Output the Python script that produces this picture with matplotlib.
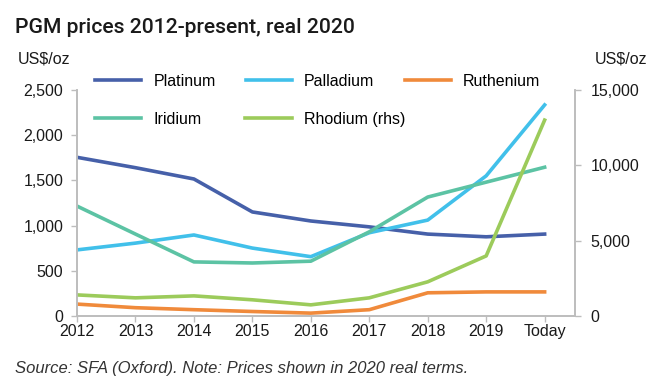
import matplotlib
matplotlib.use("Agg")
import matplotlib.pyplot as plt

plt.rcParams['font.family'] = ['Liberation Sans', 'DejaVu Sans']

years = ["2012", "2013", "2014", "2015", "2016", "2017", "2018", "2019", "Today"]

# US$/oz, real 2020 (left axis)
platinum = [1755, 1640, 1515, 1150, 1050, 985, 905, 875, 905]
palladium = [730, 805, 895, 750, 655, 920, 1060, 1550, 2335]
ruthenium = [130, 90, 68, 48, 30, 68, 255, 265, 265]
iridium = [1215, 905, 597, 585, 605, 930, 1315, 1480, 1645]
# right axis
rhodium = [1390, 1195, 1325, 1065, 730, 1195, 2260, 3980, 13000]

c_plat = "#4660A9"
c_pall = "#41C0EA"
c_ruth = "#F08A3B"
c_irid = "#5CC3A4"
c_rhod = "#9CCB5B"
spine_col = "#BDBDBD"

fig = plt.figure(figsize=(6.64, 3.88), dpi=100)
ax = fig.add_axes([0.116, 0.186, 0.75, 0.582])
ax2 = ax.twinx()

x = list(range(len(years)))
lw = 2.6
l1, = ax.plot(x, platinum, color=c_plat, lw=lw, label="Platinum")
l2, = ax.plot(x, palladium, color=c_pall, lw=lw, label="Palladium")
l3, = ax.plot(x, ruthenium, color=c_ruth, lw=lw, label="Ruthenium")
l4, = ax.plot(x, iridium, color=c_irid, lw=lw, label="Iridium")
l5, = ax2.plot(x, rhodium, color=c_rhod, lw=lw, label="Rhodium (rhs)")

ax.set_xlim(0, 8.52)
ax.set_ylim(0, 2500)
ax2.set_ylim(0, 15000)
ax.set_xticks(x)
ax.set_xticklabels(years)
ax.set_yticks([0, 500, 1000, 1500, 2000, 2500])
ax.set_yticklabels(["0", "500", "1,000", "1,500", "2,000", "2,500"])
ax2.set_yticks([0, 5000, 10000, 15000])
ax2.set_yticklabels(["0", "5,000", "10,000", "15,000"])

for a in (ax, ax2):
    for s in a.spines.values():
        s.set_color(spine_col)
        s.set_linewidth(1.2)
    a.spines["top"].set_visible(False)
    a.tick_params(colors=spine_col, labelcolor="#1a1a1a", labelsize=11.5,
                  length=4, width=1.0)
ax.tick_params(axis="x", pad=2)
ax.tick_params(axis="y", pad=6)
ax2.tick_params(axis="y", pad=7)

fig.text(0.022, 0.93, "PGM prices 2012-present, real 2020", fontsize=15.2,
         family="Roboto", weight="medium", color="#1a1a1a", va="center")
fig.text(0.027, 0.848, "US$/oz", fontsize=11.5, color="#1a1a1a", va="center")
fig.text(0.895, 0.848, "US$/oz", fontsize=11.5, color="#1a1a1a", va="center")
fig.text(0.022, 0.05, "Source: SFA (Oxford). Note: Prices shown in 2020 real terms.",
         fontsize=12, style="italic", color="#333333", va="center")

leg_kw = dict(frameon=False, fontsize=11.5, handlelength=2.9, handletextpad=0.75,
              borderpad=0, borderaxespad=0, loc="center left")
leg1 = fig.legend([l1, l2, l3], ["Platinum", "Palladium", "Ruthenium"], ncol=3,
                  bbox_to_anchor=(0.143, 0.791), columnspacing=1.9, **leg_kw)
leg2 = fig.legend([l4, l5], ["Iridium", "Rhodium (rhs)"], ncol=2,
                  bbox_to_anchor=(0.143, 0.693), columnspacing=2.75, **leg_kw)

fig.savefig("out.png", dpi=100)
